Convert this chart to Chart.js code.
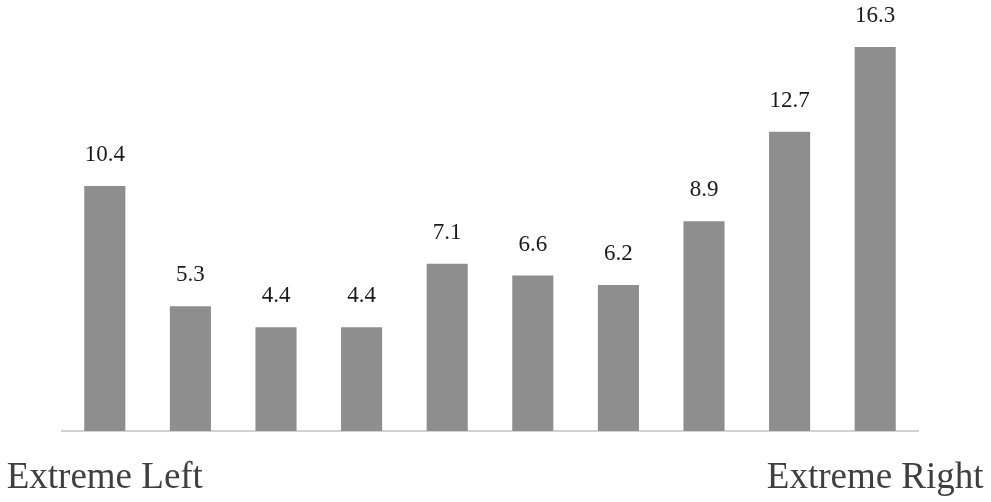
<!DOCTYPE html>
<html><head><meta charset="utf-8">
<script src="https://cdn.jsdelivr.net/npm/chart.js@4/dist/chart.umd.min.js"></script>
<style>html,body{margin:0;padding:0;background:#fff}#wrap{width:991px;height:502px}</style>
</head><body><div id="wrap"><canvas id="c"></canvas></div>
<script>
const categories = ["Extreme Left","2","3","4","5","6","7","8","9","Extreme Right"];
const shownLabels = ["Extreme Left","","","","","","","","","Extreme Right"];
const values = [10.4, 5.3, 4.4, 4.4, 7.1, 6.6, 6.2, 8.9, 12.7, 16.3];
const valueLabels = ["10.4","5.3","4.4","4.4","7.1","6.6","6.2","8.9","12.7","16.3"];

const labelPlugin = {
  id: 'valLabels',
  afterDatasetsDraw(chart) {
    const ctx = chart.ctx;
    const meta = chart.getDatasetMeta(0);
    const xs = chart.scales.x;
    ctx.save();
    ctx.font = '23px "Liberation Serif", "Times New Roman", serif';
    ctx.fillStyle = '#1a1a1a';
    ctx.textAlign = 'center';
    ctx.textBaseline = 'alphabetic';
    meta.data.forEach((bar, i) => {
      ctx.fillText(valueLabels[i], bar.x, bar.y - 25);
    });
    ctx.font = '37px "Liberation Serif", "Times New Roman", serif';
    ctx.fillStyle = '#3f3f3f';
    shownLabels.forEach((t, i) => {
      if (t) ctx.fillText(t, xs.getPixelForTick(i), chart.chartArea.bottom + 57);
    });
    ctx.restore();
  }
};

new Chart(document.getElementById('c'), {
  type: 'bar',
  data: { labels: categories, datasets: [{ data: values, backgroundColor: '#8e8e8e', borderWidth: 0, categoryPercentage: 1.0, barPercentage: 0.48 }] },
  options: {
    responsive: true, maintainAspectRatio: false, animation: false,
    layout: { padding: { left: 62, right: 73, top: 7, bottom: 71 } },
    plugins: { legend: { display: false }, tooltip: { enabled: false } },
    scales: {
      x: {
        grid: { display: false, drawTicks: false },
        border: { display: true, color: '#d2d2d2', width: 2 },
        ticks: { display: false }
      },
      y: { display: false, min: 0, max: 18 }
    }
  },
  plugins: [labelPlugin]
});
</script></body></html>
